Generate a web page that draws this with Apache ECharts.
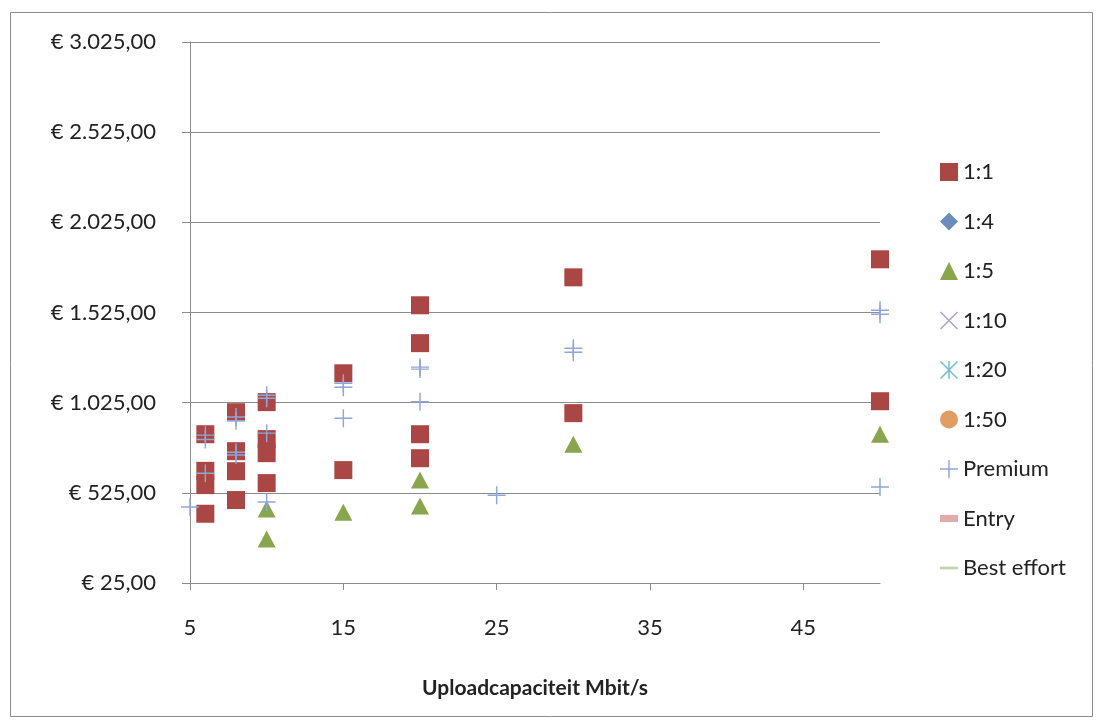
<!DOCTYPE html>
<html>
<head>
<meta charset="utf-8">
<script src="https://cdn.jsdelivr.net/npm/echarts@6/dist/echarts.min.js"></script>
<style>
  html, body { margin: 0; padding: 0; background: #fff; }
  #chart { width: 1098px; height: 722px; }
</style>
</head>
<body>
<div id="chart"></div>
<script>
// upload capacity (Mbit/s) vs monthly price, per contention ratio
const xTicks = [5, 15, 25, 35, 45];
const yTicks = [25, 525, 1025, 1525, 2025, 2525, 3025];

const ratio1 = [
  [6, 850], [6, 647], [6, 568], [6, 409],
  [8, 972], [8, 756], [8, 645], [8, 485],
  [10, 1028], [10, 823], [10, 745], [10, 579],
  [15, 1188], [15, 651],
  [20, 1565], [20, 1355], [20, 850], [20, 717],
  [30, 1720], [30, 967],
  [50, 1820], [50, 1033]
];
const ratio5 = [
  [10, 435], [10, 269], [15, 418], [20, 596], [20, 452], [30, 795], [50, 850]
];
const premium = [
  [5, 446],
  [6, 845], [6, 821], [6, 634],
  [8, 945], [8, 925], [8, 750], [8, 735],
  [10, 1066], [10, 1050], [10, 856], [10, 474],
  [15, 1133], [15, 1111], [15, 939],
  [20, 1222], [20, 1211], [20, 1030],
  [25, 512],
  [30, 1327], [30, 1305],
  [50, 1537], [50, 1515], [50, 557]
];
const ratio4 = [];
const ratio10 = [];
const ratio20 = [];
const ratio50 = [];
const entry = [];
const bestEffort = [];

const font = 'Lato';
const plus = 'path://M0,4.6h10v0.8h-10z M4.6,0h0.8v10h-0.8z';
const cross = 'path://M0,0.6L0.6,0L10,9.4L9.4,10Z M9.4,0L10,0.6L0.6,10L0,9.4Z';
const star = 'path://M0,0.6L0.6,0L10,9.4L9.4,10Z M9.4,0L10,0.6L0.6,10L0,9.4Z M4.6,0h0.8v10h-0.8z';
const dash = 'path://M0,0h10v4h-10z';
const line = 'path://M0,0h20v3h-20z';

function euro(v) {
  let s = v.toFixed(2).replace('.', ',');
  let parts = s.split(',');
  parts[0] = parts[0].replace(/\B(?=(\d{3})+(?!\d))/g, '.');
  return '€ ' + parts.join(',');
}

const chart = echarts.init(document.getElementById('chart'));

const option = {
  animation: false,
  backgroundColor: '#fff',
  graphic: [{
    type: 'rect',
    left: 8, top: 10,
    shape: { width: 1082, height: 704 },
    style: { fill: 'none', stroke: '#8c8c8c', lineWidth: 1 },
    silent: true
  }],
  grid: { left: 190, right: 218, top: 42, bottom: 139 },
  legend: {
    orient: 'vertical',
    left: 935,
    top: 156,
    itemWidth: 18,
    itemHeight: 18,
    itemGap: 27.5,
    textStyle: { fontFamily: font, fontSize: 22, color: '#222' },
    data: [
      { name: '1:1', icon: 'rect' },
      { name: '1:4', icon: 'diamond' },
      { name: '1:5', icon: 'triangle' },
      { name: '1:10', icon: cross },
      { name: '1:20', icon: star },
      { name: '1:50', icon: 'circle' },
      { name: 'Premium', icon: plus },
      { name: 'Entry', icon: dash },
      { name: 'Best effort', icon: line }
    ]
  },
  xAxis: {
    type: 'value',
    min: 5,
    max: 50,
    interval: 10,
    name: 'Uploadcapaciteit Mbit/s',
    nameLocation: 'middle',
    nameGap: 95,
    nameTextStyle: { fontFamily: font, fontSize: 21, fontWeight: 'bold', color: '#222' },
    axisLine: { lineStyle: { color: '#8c8c8c' } },
    axisTick: { show: true, length: 7, lineStyle: { color: '#8c8c8c' }, customValues: xTicks },
    axisLabel: { fontFamily: font, fontSize: 22, color: '#222', margin: 34, customValues: xTicks },
    splitLine: { show: false }
  },
  yAxis: {
    type: 'value',
    min: 25,
    max: 3025,
    interval: 500,
    axisLine: { show: true, lineStyle: { color: '#8c8c8c' } },
    axisTick: { show: true, length: 8, lineStyle: { color: '#8c8c8c' } },
    axisLabel: { fontFamily: font, fontSize: 22, color: '#222', margin: 34, formatter: euro },
    splitLine: { lineStyle: { color: '#8c8c8c', width: 1 } }
  },
  series: [
    { name: '1:1', type: 'scatter', data: ratio1, symbol: 'rect', symbolSize: 18,
      itemStyle: { color: '#AA4643', opacity: 1 } },
    { name: '1:4', type: 'scatter', data: ratio4, symbol: 'diamond', symbolSize: 18,
      itemStyle: { color: '#4572A7' } },
    { name: '1:5', type: 'scatter', data: ratio5, symbol: 'triangle', symbolSize: [18, 17],
      itemStyle: { color: '#89A54E', opacity: 1 } },
    { name: '1:10', type: 'scatter', data: ratio10, symbol: cross, symbolSize: 18,
      itemStyle: { color: '#9C8AB8' } },
    { name: '1:20', type: 'scatter', data: ratio20, symbol: star, symbolSize: 18,
      itemStyle: { color: '#4BACC6' } },
    { name: '1:50', type: 'scatter', data: ratio50, symbol: 'circle', symbolSize: 18,
      itemStyle: { color: '#DB843D' } },
    { name: 'Premium', type: 'scatter', data: premium, symbol: plus, symbolSize: 18,
      itemStyle: { color: '#8EA6D8', opacity: 1 } },
    { name: 'Entry', type: 'scatter', data: entry, symbol: dash, symbolSize: 10,
      itemStyle: { color: '#D99694' } },
    { name: 'Best effort', type: 'scatter', data: bestEffort, symbol: line, symbolSize: 18,
      itemStyle: { color: '#B5CA92' } }
  ]
};

chart.setOption(option);
</script>
</body>
</html>
